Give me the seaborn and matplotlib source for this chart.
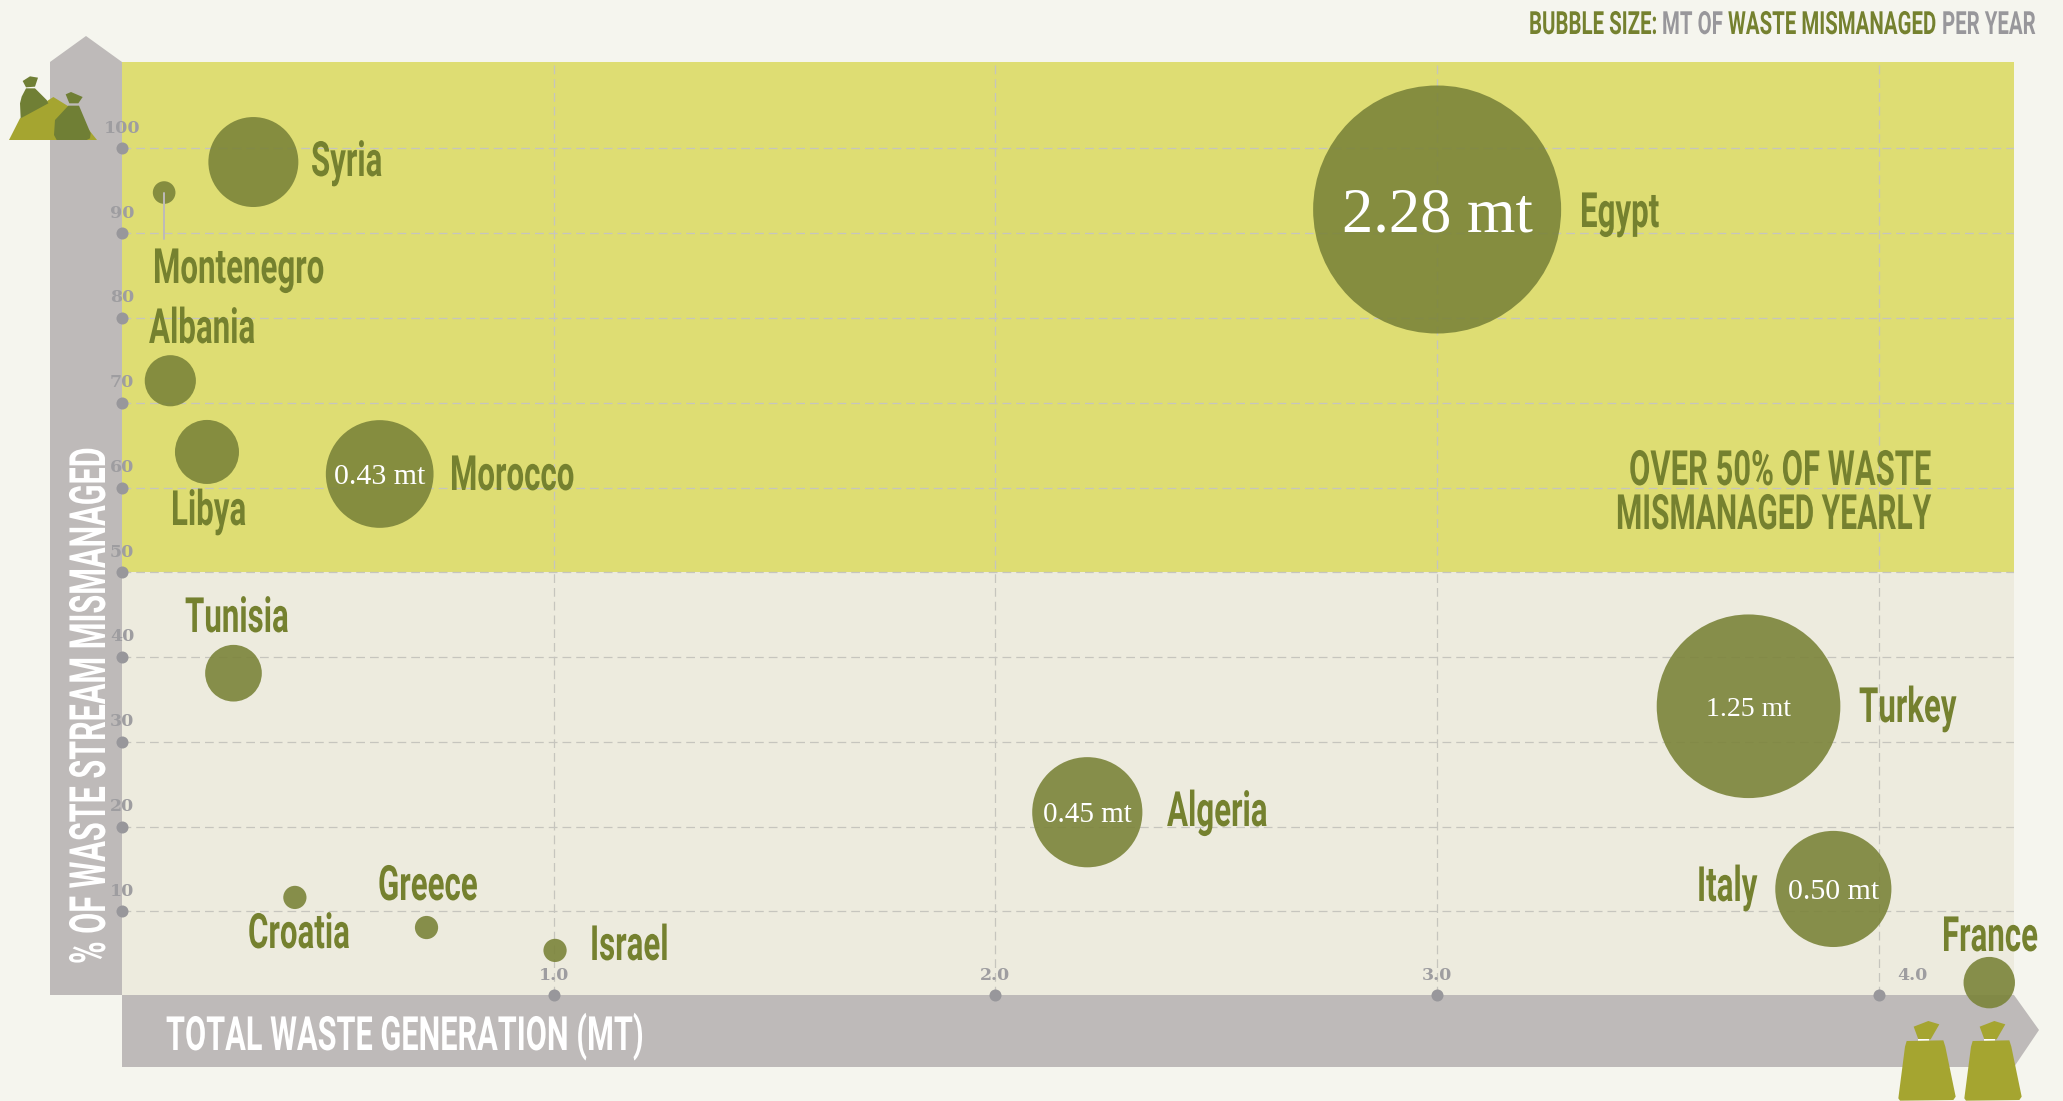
import matplotlib
matplotlib.use("Agg")
import matplotlib.pyplot as plt
import matplotlib.patheffects as pe
from matplotlib.patches import Polygon
from matplotlib.transforms import Affine2D
import pandas as pd
import seaborn as sns

# data
countries = ["Syria", "Montenegro", "Egypt", "Albania", "Libya", "Morocco", "Tunisia", "Turkey",
             "Algeria", "Italy", "France", "Croatia", "Greece", "Israel"]
waste_total = [0.32, 0.118, 3.0, 0.132, 0.215, 0.606, 0.275, 3.705, 2.208, 3.897, 4.25, 0.414, 0.712, 1.003]
pct_mismanaged = [98.4, 94.8, 92.8, 72.6, 64.2, 61.6, 38.1, 34.2, 21.7, 12.65, 1.6, 11.65, 8.1, 5.4]
mismanaged_mt = [0.30, 0.019, 2.28, 0.097, 0.152, 0.43, 0.119, 1.25, 0.45, 0.50, 0.098, 0.02, 0.02, 0.02]

x_ticks = [1, 2, 3, 4]
x_tick_labels = ["1.0", "2.0", "3.0", "4.0"]
y_ticks = [10, 20, 30, 40, 50, 60, 70, 80, 90, 100]

# country -> (left, baseline) in figure pixels
label_pos = {"Syria": (311, 176), "Montenegro": (153, 283), "Egypt": (1580, 227), "Albania": (149, 343),
             "Libya": (171, 525), "Morocco": (450, 490), "Tunisia": (185, 632), "Turkey": (1859, 722),
             "Algeria": (1167, 826), "Italy": (1697, 901), "France": (1942, 951), "Croatia": (248, 948),
             "Greece": (378, 900), "Israel": (590, 960)}
bubble_text = {"Egypt": 45, "Morocco": 21.5, "Turkey": 20, "Algeria": 21, "Italy": 21.5}

W, H = 2063, 1101
BG = "#F5F5EE"
YELLOW = "#DEDD73"
PALE = "#EDEBDE"
ARROW = "#BEBAB9"
OLIVE = "#75812F"
BUBBLE = "#7B843A"
DOT = "#98979B"
BAG_DARK = "#707F35"
BAG_LIGHT = "#A5A530"


class Tall(pe.AbstractPathEffect):
    # no condensed gothic installed: set a small Roboto and pull the glyphs up
    def __init__(self, sy):
        super().__init__()
        self.sy = sy

    def draw_path(self, renderer, gc, tpath, affine, rgbFace=None):
        renderer.draw_path(gc, tpath, Affine2D().scale(1, self.sy) + affine, rgbFace)


sns.set_style("white")
plt.rcParams["font.family"] = ["Roboto", "DejaVu Sans"]

fig = plt.figure(figsize=(W / 100, H / 100), dpi=100, facecolor=BG)

# backdrop: the two axis arrows
back = fig.add_axes([0, 0, 1, 1], zorder=0)
back.set_xlim(0, W)
back.set_ylim(H, 0)
back.axis("off")
back.add_patch(Polygon([(50, 62), (86, 36), (122, 62), (122, 995), (50, 995)], fc=ARROW, ec="none"))
back.add_patch(Polygon([(122, 995), (2014, 995), (2039, 1030), (2014, 1067), (122, 1067)], fc=ARROW, ec="none"))

# main plot
ax = fig.add_axes([122 / W, 1 - 995 / H, (2014 - 122) / W, (995 - 62) / H], zorder=1)
ax.patch.set_alpha(0)
xmin, xmax = 0.0226, 4.306
ymin, ymax = 0.14, 110.2
ax.axhspan(50, ymax, color=YELLOW, lw=0, zorder=0)
ax.axhspan(ymin, 50, color=PALE, lw=0, zorder=0)
ax.set_xticks(x_ticks)
ax.set_yticks(y_ticks)
ax.grid(True, color="#C6C5BE", lw=0.9, dashes=(7, 4))
ax.set_axisbelow(False)
ax.tick_params(length=0, labelbottom=False, labelleft=False)
for s in ax.spines.values():
    s.set_visible(False)

df = pd.DataFrame({"country": countries, "x": waste_total, "y": pct_mismanaged, "mt": mismanaged_mt})
per_mt = 13985
sns.scatterplot(data=df, x="x", y="y", size="mt", sizes=(per_mt * min(mismanaged_mt), per_mt * max(mismanaged_mt)),
                color=BUBBLE, alpha=0.9, linewidth=0, legend=False, clip_on=False, zorder=3, ax=ax)
ax.set_xlim(xmin, xmax)
ax.set_ylim(ymin, ymax)
ax.set_xlabel("")
ax.set_ylabel("")

# leader for Montenegro
ax.plot([0.118, 0.118], [94.8, 89.3], color=ARROW, lw=1.4, zorder=4)

# tick dots and labels
tick_font = dict(family="DejaVu Serif", fontweight="bold", fontsize=12.5, color="#9E9DA0", ha="center", va="center")
ax.scatter([xmin] * len(y_ticks), y_ticks, s=75, color=DOT, lw=0, clip_on=False, zorder=5)
ax.scatter(x_ticks, [ymin] * len(x_ticks), s=75, color=DOT, lw=0, clip_on=False, zorder=5)
for v in y_ticks:
    ax.annotate(str(v), (xmin, v), xytext=(0, 14.5), textcoords="offset points", zorder=6, **tick_font)
for v, lab in zip(x_ticks, x_tick_labels):
    dx = 24 if v == 4 else 0
    ax.annotate(lab, (v, ymin), xytext=(dx, 14), textcoords="offset points", zorder=6, **tick_font)

# text inside the big bubbles
for name, size in bubble_text.items():
    row = df[df["country"] == name].iloc[0]
    ax.text(row["x"], row["y"], f"{row['mt']:.2f} mt", color="white", fontsize=size, family="Liberation Serif",
            ha="center", va="center_baseline", zorder=6)

# overlay in pixel coordinates for labels and bags
top = fig.add_axes([0, 0, 1, 1], zorder=2)
top.patch.set_alpha(0)
top.set_xlim(0, W)
top.set_ylim(H, 0)
top.axis("off")


def gothic(x, y, txt, size, height, color=OLIVE, **kw):
    # size sets the width of the text, height the size it looks vertically
    t = top.text(x, y, txt, fontsize=size, color=color, fontweight="bold", ha="left", va="baseline",
                 rotation_mode="anchor", **kw)
    t.set_path_effects([Tall(height / size)])
    return t


for name, (lx, ly) in label_pos.items():
    gothic(lx, ly, name, 22.5, 35)

gothic(1629, 485, "OVER 50% OF WASTE", 22.3, 35)
gothic(1616, 529, "MISMANAGED YEARLY", 21.6, 35)

gothic(166, 1050, "TOTAL WASTE GENERATION (MT)", 22.1, 34, color="white")
gothic(105, 964, "% OF WASTE STREAM MISMANAGED", 22, 36, color="white", rotation=90)

gothic(1529, 34, "BUBBLE SIZE:", 14.7, 23)
gothic(1662, 34, "MT OF", 14.7, 23, color=DOT)
gothic(1728, 34, "WASTE MISMANAGED", 14.7, 23)
gothic(1942, 34, "PER YEAR", 14.7, 23, color=DOT)


def poly(points, color, dx=0, dy=0, scale=1.0):
    pts = [(dx + px * scale, dy + py * scale) for px, py in points]
    top.add_patch(Polygon(pts, closed=True, fc=color, ec="none"))


# left bag pile
s = 1 / 3
poly([(27, 420), (60, 355), (160, 291), (215, 325), (291, 420)], BAG_LIGHT, scale=s)
poly([(68, 243), (90, 229), (114, 233), (105, 260), (78, 262)], BAG_DARK, scale=s)
poly([(78, 265), (105, 265), (140, 300), (145, 310), (62, 355), (60, 310), (65, 290)], BAG_DARK, scale=s)
poly([(197, 283), (213, 276), (248, 291), (235, 310), (208, 310)], BAG_DARK, scale=s)
poly([(205, 317), (237, 317), (272, 400), (270, 415), (260, 420), (170, 420), (162, 405), (165, 360)], BAG_DARK, scale=s)

# right bags
for off in [0, 198]:
    ox, oy = 1800 + off / 3, 880
    poly([(341, 440), (385, 423), (418, 433), (392, 478), (355, 478)], BAG_LIGHT, ox, oy, s)
    poly([(355, 478), (388, 478), (388, 484), (355, 484)], "white", ox, oy, s)
    poly([(320, 483), (430, 481), (436, 500), (467, 650), (460, 660), (300, 662), (295, 655), (315, 500)],
         BAG_LIGHT, ox, oy, s)

fig.savefig("out.png", dpi=100, facecolor=BG)
